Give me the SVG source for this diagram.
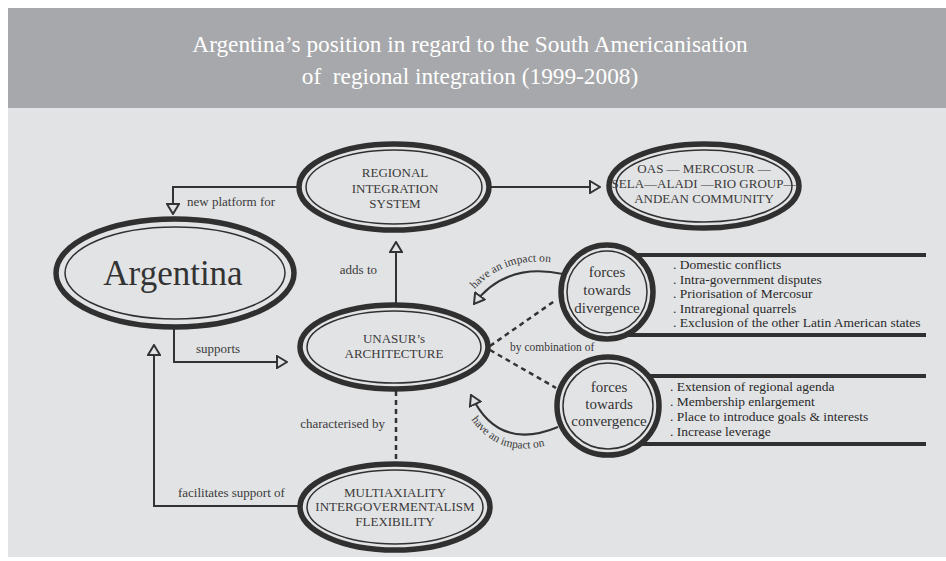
<svg xmlns="http://www.w3.org/2000/svg" width="946" height="561" viewBox="0 0 946 561">
<defs>
<style>
.bg{fill:#e2e3e5}
.hd{fill:#a7a8ab}
.title{font-family:"Liberation Serif","Times New Roman",serif;font-size:23.3px;fill:#ffffff;text-anchor:middle}
.outer{fill:#e2e3e5;stroke:#303030;stroke-width:5.5}
.inner{fill:none;stroke:#303030;stroke-width:1.5}
.nt{font-family:"Liberation Serif","Times New Roman",serif;font-size:13px;fill:#3a3a3a;text-anchor:middle}
.ft{font-family:"Liberation Serif","Times New Roman",serif;font-size:15px;fill:#333;text-anchor:middle}
.lt{font-family:"Liberation Serif","Times New Roman",serif;font-size:13.5px;fill:#2a2a2a}
.lb{font-family:"Liberation Serif","Times New Roman",serif;font-size:13px;fill:#3a3a3a}
.sm{font-family:"Liberation Serif","Times New Roman",serif;font-size:11.5px;fill:#3a3a3a}
.con{fill:none;stroke:#333;stroke-width:2}
.dash{fill:none;stroke:#333;stroke-width:2.5;stroke-dasharray:5 4}
.bar{stroke:#303030;stroke-width:4}
</style>
<marker id="arr" viewBox="0 0 12 14" refX="11" refY="7" markerWidth="12" markerHeight="14" markerUnits="userSpaceOnUse" orient="auto">
<path d="M1,1 L11,7 L1,13 Z" fill="#e2e3e5" stroke="#333" stroke-width="2"/>
</marker>
<path id="tp1" d="M 467,298 Q 502,252 562,264"/>
<path id="tp2" d="M 462,404 Q 494,468 562,440"/>
</defs>

<rect x="0" y="0" width="946" height="561" fill="#ffffff"/>
<rect class="hd" x="8" y="8" width="938" height="100"/>
<rect class="bg" x="8" y="108" width="938" height="449"/>
<text class="title" x="470" y="52">Argentina’s position in regard to the South Americanisation</text>
<text class="title" x="470" y="84" xml:space="preserve">of  regional integration (1999-2008)</text>

<g id="connectors">
<path class="con" d="M 299,187 H 173 V 214" marker-end="url(#arr)"/>
<path class="con" d="M 491,187 H 600" marker-end="url(#arr)"/>
<path class="con" d="M 396,305 V 242" marker-end="url(#arr)"/>
<path class="con" d="M 174,329 V 362 H 287" marker-end="url(#arr)"/>
<path class="con" d="M 299,506 H 154 V 345" marker-end="url(#arr)"/>
<path class="dash" d="M 396,391 V 463"/>
<path class="dash" d="M 490,346 L 556,300"/>
<path class="dash" d="M 490,350 L 556,388"/>
<path class="con" d="M 563,274 Q 505,262 474,304" marker-end="url(#arr)"/>
<path class="con" d="M 558,427 Q 498,452 471,395" marker-end="url(#arr)"/>
<text class="lb" x="187" y="206">new platform for</text>
<text class="lb" x="377" y="274" text-anchor="end">adds to</text>
<text class="lb" x="196" y="353">supports</text>
<text class="lb" x="385" y="428" text-anchor="end">characterised by</text>
<text class="lb" x="178" y="497">facilitates support of</text>
<text class="sm" x="510" y="351" font-size="11">by combination of</text>
<text class="sm"><textPath href="#tp1" startOffset="50%" text-anchor="middle">have an impact on</textPath></text>
<text class="sm"><textPath href="#tp2" startOffset="50%" text-anchor="middle">have an impact on</textPath></text>
</g>

<g id="argentina">
<ellipse class="outer" cx="175" cy="273" rx="119" ry="54" stroke-width="7"/>
<ellipse class="inner" cx="175" cy="273" rx="110" ry="46"/>
<text x="173" y="285" font-family="'Liberation Serif','Times New Roman',serif" font-size="35" fill="#333" text-anchor="middle">Argentina</text>
</g>

<g id="regional">
<ellipse class="outer" cx="394" cy="187" rx="95" ry="43"/>
<ellipse class="inner" cx="394" cy="187" rx="88" ry="37"/>
<text class="nt" x="395" y="177">REGIONAL</text>
<text class="nt" x="395" y="193">INTEGRATION</text>
<text class="nt" x="395" y="208">SYSTEM</text>
</g>

<g id="oas">
<ellipse class="outer" cx="704" cy="186" rx="95" ry="42"/>
<ellipse class="inner" cx="704" cy="186" rx="88" ry="36"/>
<text class="nt" x="704" y="173" font-size="11.5">OAS — MERCOSUR —</text>
<text class="nt" x="704" y="188" font-size="11.2">SELA—ALADI —RIO GROUP—</text>
<text class="nt" x="704" y="203" font-size="11.8">ANDEAN COMMUNITY</text>
</g>

<g id="unasur">
<ellipse class="outer" cx="394" cy="347" rx="94" ry="42"/>
<ellipse class="inner" cx="394" cy="347" rx="87" ry="36"/>
<text class="nt" x="394" y="343">UNASUR’s</text>
<text class="nt" x="394" y="358">ARCHITECTURE</text>
</g>

<g id="multiaxiality">
<ellipse class="outer" cx="395" cy="507" rx="95" ry="43"/>
<ellipse class="inner" cx="395" cy="507" rx="88" ry="37"/>
<text class="nt" x="395" y="497" font-size="12">MULTIAXIALITY</text>
<text class="nt" x="395" y="511" font-size="12">INTERGOVERMENTALISM</text>
<text class="nt" x="395" y="526" font-size="12">FLEXIBILITY</text>
</g>

<g id="divergence">
<line class="bar" x1="607" y1="255" x2="926" y2="255"/>
<line class="bar" x1="607" y1="335" x2="926" y2="335"/>
<ellipse class="outer" cx="607" cy="292" rx="46" ry="47"/>
<ellipse class="inner" cx="607" cy="292" rx="40" ry="41"/>
<text class="ft" x="607" y="277">forces</text>
<text class="ft" x="607" y="295">towards</text>
<text class="ft" x="607" y="313">divergence</text>
<text class="lt" x="673" y="269">. Domestic conflicts</text>
<text class="lt" x="673" y="284">. Intra-government disputes</text>
<text class="lt" x="673" y="298">. Priorisation of Mercosur</text>
<text class="lt" x="673" y="313">. Intraregional quarrels</text>
<text class="lt" x="673" y="327">. Exclusion of the other Latin American states</text>
</g>

<g id="convergence">
<line class="bar" x1="608" y1="376" x2="926" y2="376"/>
<line class="bar" x1="608" y1="444" x2="926" y2="444"/>
<ellipse class="outer" cx="608" cy="406" rx="51" ry="49"/>
<ellipse class="inner" cx="608" cy="406" rx="45" ry="43"/>
<text class="ft" x="609" y="392">forces</text>
<text class="ft" x="609" y="409">towards</text>
<text class="ft" x="609" y="426">convergence</text>
<text class="lt" x="670" y="391">. Extension of regional agenda</text>
<text class="lt" x="670" y="406">. Membership enlargement</text>
<text class="lt" x="670" y="421">. Place to introduce goals &amp; interests</text>
<text class="lt" x="670" y="436">. Increase leverage</text>
</g>
</svg>
